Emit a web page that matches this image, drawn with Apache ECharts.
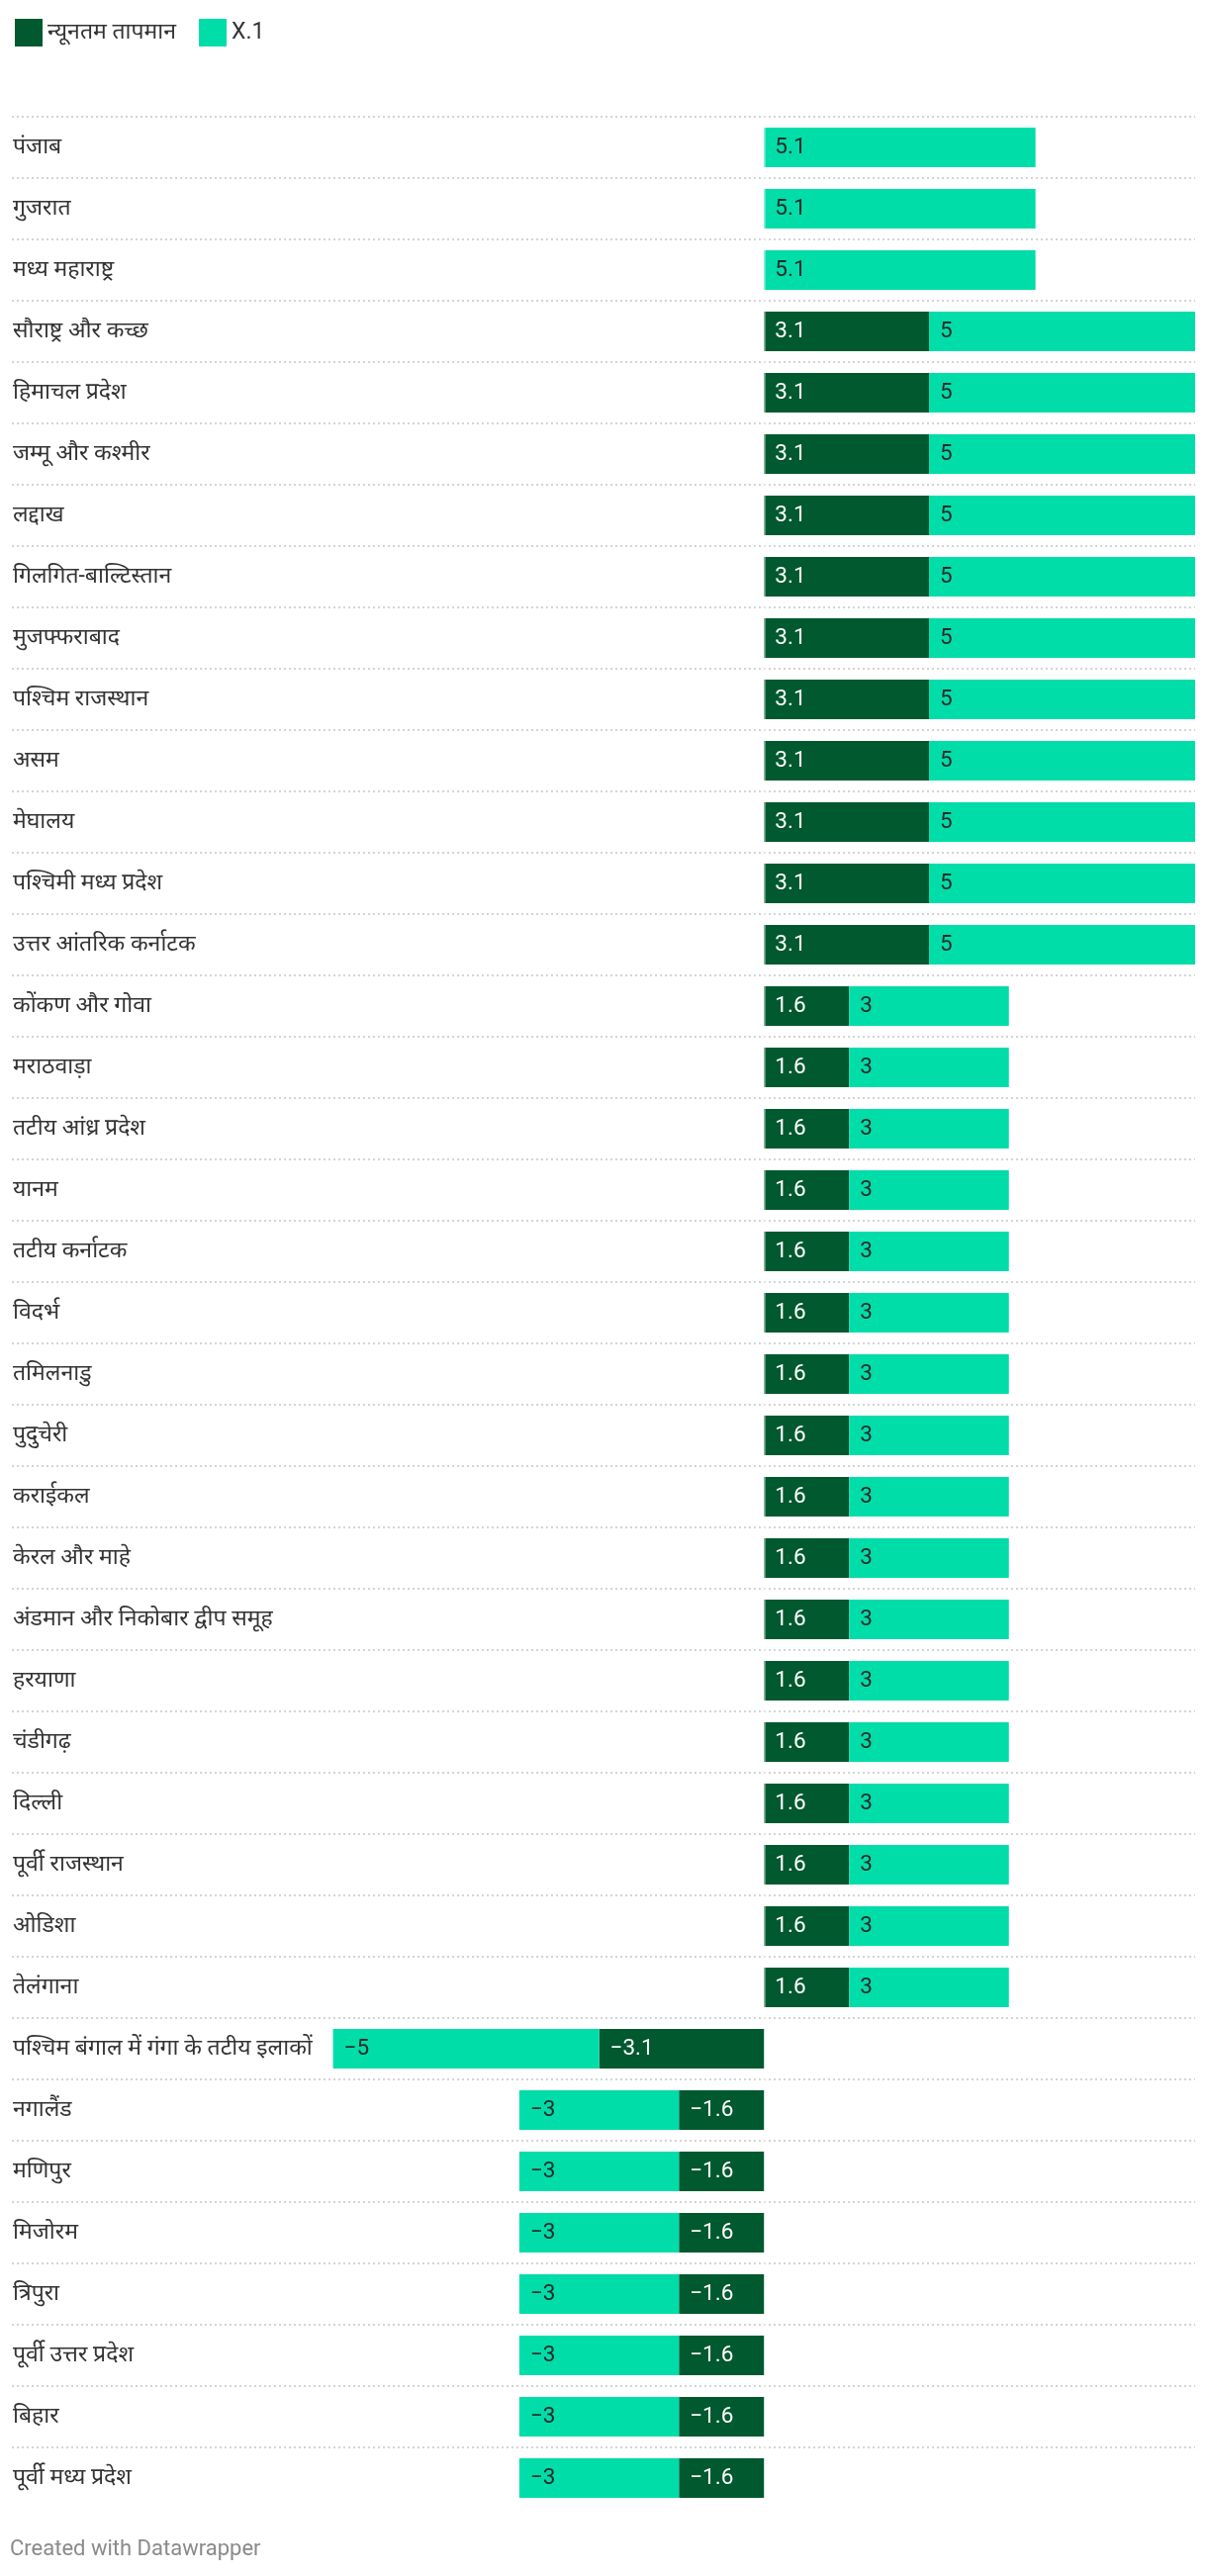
<!DOCTYPE html>
<html>
<head>
<meta charset="utf-8">
<script src="https://cdn.jsdelivr.net/npm/echarts@6/dist/echarts.min.js"></script>
<style>
html,body{margin:0;padding:0;background:#fff;}
#chart{width:1220px;height:2604px;}
</style>
</head>
<body>
<div id="chart"></div>
<script>
const categories = [
  'पंजाब','गुजरात','मध्य महाराष्ट्र','सौराष्ट्र और कच्छ','हिमाचल प्रदेश','जम्मू और कश्मीर','लद्दाख',
  'गिलगित-बाल्टिस्तान','मुजफ्फराबाद','पश्चिम राजस्थान','असम','मेघालय','पश्चिमी मध्य प्रदेश',
  'उत्तर आंतरिक कर्नाटक','कोंकण और गोवा','मराठवाड़ा','तटीय आंध्र प्रदेश','यानम','तटीय कर्नाटक',
  'विदर्भ','तमिलनाडु','पुदुचेरी','कराईकल','केरल और माहे','अंडमान और निकोबार द्वीप समूह',
  'हरयाणा','चंडीगढ़','दिल्ली','पूर्वी राजस्थान','ओडिशा','तेलंगाना',
  'पश्चिम बंगाल में गंगा के तटीय इलाकों','नगालैंड','मणिपुर','मिजोरम','त्रिपुरा',
  'पूर्वी उत्तर प्रदेश','बिहार','पूर्वी मध्य प्रदेश'
];
const minTemp = [
  null, null, null,
  3.1, 3.1, 3.1, 3.1, 3.1, 3.1, 3.1, 3.1, 3.1, 3.1, 3.1,
  1.6, 1.6, 1.6, 1.6, 1.6, 1.6, 1.6, 1.6, 1.6, 1.6, 1.6, 1.6, 1.6, 1.6, 1.6, 1.6, 1.6,
  -3.1,
  -1.6, -1.6, -1.6, -1.6, -1.6, -1.6, -1.6
];
const x1 = [
  5.1, 5.1, 5.1,
  5, 5, 5, 5, 5, 5, 5, 5, 5, 5, 5,
  3, 3, 3, 3, 3, 3, 3, 3, 3, 3, 3, 3, 3, 3, 3, 3, 3,
  -5,
  -3, -3, -3, -3, -3, -3, -3
];
const seriesNames = ['न्यूनतम तापमान', 'X.1'];

const DARK = '#01592f';
const LIGHT = '#00dda9';
const FONT = 'Roboto, "Noto Sans", sans-serif';
const fmt = v => (v == null ? '' : String(v).replace('-', '\u2212'));

const chart = echarts.init(document.getElementById('chart'), null, {renderer: 'canvas'});
const rowH = 62;
chart.setOption({
  animation: false,
  backgroundColor: '#fff',
  textStyle: {fontFamily: FONT},
  legend: {
    left: 10, top: 14,
    itemWidth: 28, itemHeight: 28, itemGap: 23,
    icon: 'rect',
    textStyle: {fontSize: 23, color: '#333', fontFamily: FONT},
    data: seriesNames
  },
  grid: {left: 12, right: 12, top: 118, height: rowH * categories.length, containLabel: false},
  xAxis: {
    type: 'value', min: -14.135, max: 8.1,
    axisLine: {show: false}, axisTick: {show: false}, axisLabel: {show: false},
    splitLine: {show: false}
  },
  yAxis: {
    type: 'category', data: categories, inverse: true,
    axisLine: {show: false, onZero: false}, axisTick: {show: false},
    axisLabel: {inside: true, margin: 1, color: '#333', fontSize: 23, fontFamily: FONT, padding: [6, 0, 0, 0]},
    splitLine: {show: true, showMaxLine: false, lineStyle: {color: '#d4d4d4', width: 2, type: [2, 3]}}
  },
  series: [
    {
      name: seriesNames[0], type: 'bar', stack: 't', data: minTemp, barWidth: 40,
      itemStyle: {color: DARK},
      label: {show: true, position: 'insideLeft', distance: 11, color: '#fff', fontSize: 22.5,
        fontFamily: FONT, formatter: p => fmt(p.value)}
    },
    {
      name: seriesNames[1], type: 'bar', stack: 't', data: x1, barWidth: 40,
      itemStyle: {color: LIGHT},
      label: {show: true, position: 'insideLeft', distance: 11, color: '#2a2a2a', fontSize: 22.5,
        fontFamily: FONT, formatter: p => fmt(p.value)},
      markLine: {
        silent: true, symbol: 'none', label: {show: false},
        lineStyle: {color: 'rgba(255,255,255,0.35)', width: 2, type: 'solid'},
        data: [{xAxis: 0}]
      }
    }
  ],
  graphic: [{
    type: 'text', left: 10, top: 2566,
    style: {text: 'Created with Datawrapper', fill: '#8a8a8a', fontSize: 22, fontFamily: FONT}
  }]
});
</script>
</body>
</html>
